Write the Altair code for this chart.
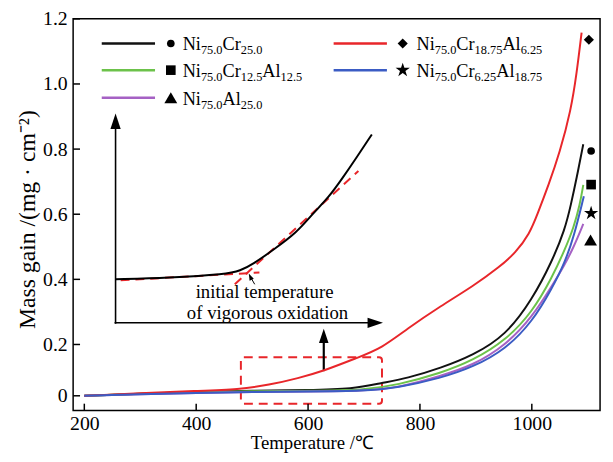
import altair as alt
import pandas as pd

# ---------------- data ----------------
x_ticks = [200, 400, 600, 800, 1000]
y_ticks = [0, 0.2, 0.4, 0.6, 0.8, 1.0, 1.2]

series_keys = ["NiCr", "NiCrAl125", "NiAl", "NiCrAl625", "NiCrAl1875"]
series_colors = ["#111111", "#6cc24a", "#a561c4", "#e8262a", "#3b5cc4"]

temp_black = [200, 300, 400, 500, 600, 680, 731, 777, 837, 895, 953, 1001, 1036, 1059, 1070, 1080, 1092]
gain_black = [0, 0.008, 0.015, 0.02, 0.022, 0.026, 0.05, 0.068, 0.108, 0.158, 0.227, 0.339, 0.455, 0.552, 0.63, 0.71, 0.815]

temp_green = [200, 300, 400, 500, 600, 700, 760, 837, 895, 953, 1001, 1036, 1059, 1075, 1086, 1092]
gain_green = [0, 0.008, 0.014, 0.018, 0.02, 0.022, 0.042, 0.088, 0.138, 0.212, 0.30, 0.405, 0.491, 0.56, 0.63, 0.69]

temp_purple = [200, 300, 400, 500, 600, 700, 760, 837, 895, 953, 1001, 1036, 1059, 1075, 1092]
gain_purple = [0, 0.006, 0.011, 0.015, 0.017, 0.019, 0.031, 0.077, 0.119, 0.196, 0.285, 0.38, 0.445, 0.50, 0.57]

temp_red = [200, 300, 400, 477, 530, 583, 627, 690, 731, 777, 837, 895, 943, 971, 996, 1010, 1030, 1050, 1070, 1080, 1089]
gain_red = [0, 0.01, 0.019, 0.025, 0.042, 0.069, 0.096, 0.15, 0.185, 0.248, 0.318, 0.379, 0.439, 0.482, 0.54, 0.60, 0.69, 0.79, 0.92, 1.03, 1.158]

temp_blue = [200, 300, 400, 500, 600, 700, 760, 837, 895, 953, 1001, 1036, 1059, 1075, 1093]
gain_blue = [0, 0.006, 0.011, 0.015, 0.017, 0.019, 0.031, 0.069, 0.112, 0.181, 0.27, 0.372, 0.452, 0.53, 0.655]

# end-of-curve marker positions
marker_temp = [1106, 1106, 1105, 1102, 1106]
marker_gain = [0.794, 0.691, 0.521, 1.136, 0.603]

# legend label pieces: (text, is_subscript)
legend_pieces = [
    [("Ni", 0), ("75.0", 1), ("Cr", 0), ("25.0", 1)],
    [("Ni", 0), ("75.0", 1), ("Cr", 0), ("12.5", 1), ("Al", 0), ("12.5", 1)],
    [("Ni", 0), ("75.0", 1), ("Al", 0), ("25.0", 1)],
    [("Ni", 0), ("75.0", 1), ("Cr", 0), ("18.75", 1), ("Al", 0), ("6.25", 1)],
    [("Ni", 0), ("75.0", 1), ("Cr", 0), ("6.25", 1), ("Al", 0), ("18.75", 1)],
]

# inset sketch (in the main axes' units)
inset_temp = [256, 350, 455, 478, 503, 538, 579, 609, 637, 662, 685, 714]
inset_gain = [0.40, 0.405, 0.416, 0.426, 0.448, 0.491, 0.542, 0.603, 0.652, 0.712, 0.770, 0.845]
tangent_temp = [[265, 513], [469, 690]]
tangent_gain = [[0.397, 0.421], [0.385, 0.733]]
note_lines = ["initial temperature", "of vigorous oxidation"]

# ---------------- layout / style ----------------
W, H = 534, 397
X_DOMAIN = [180, 1122]
Y_DOMAIN = [-0.058, 0, 0.2, 1.2]
Y_RANGE = [H, 382, 330, 0]
DEG_PER_PX = (X_DOMAIN[1] - X_DOMAIN[0]) / W
SERIF = "Liberation Serif"
RED = "#e8262a"
STAR = ("M0,-1L0.2245,-0.309L0.951,-0.309L0.363,0.118L0.588,0.809L0,0.382L-0.588,0.809"
        "L-0.363,0.118L-0.951,-0.309L-0.2245,-0.309Z")
marker_shapes = ["circle", "square", "triangle-up", "diamond", STAR]
marker_sizes = [60, 95, 170, 105, 230]

xs = alt.Scale(domain=X_DOMAIN, nice=False, zero=False)
ys = alt.Scale(domain=Y_DOMAIN, range=Y_RANGE, nice=False, zero=False)

axis_style = dict(ticks=False, domain=False, grid=False,
                  labelFont=SERIF, labelFontSize=20, labelColor="black",
                  titleFont=SERIF, titleFontWeight="normal", titleColor="black")
x_axis = alt.Axis(values=x_ticks, format="d", title="Temperature /℃", labelPadding=3, titlePadding=0,
                  titleFontSize=19, titleX=242, **axis_style)
y_axis = alt.Axis(values=y_ticks, labelExpr="datum.value == 0 ? '0' : format(datum.value, '.1f')",
                  title="Mass gain /(mg · cm⁻²)", labelPadding=6, titlePadding=3,
                  titleFontSize=24, titleY=203, **axis_style)

def X(f="x"):
    return alt.X(f"{f}:Q", scale=xs, axis=x_axis)

def Y(f="y"):
    return alt.Y(f"{f}:Q", scale=ys, axis=y_axis)

def p2d(px):
    # page pixel column (plot left edge at 74) -> temperature units
    return X_DOMAIN[0] + (px - 74) * DEG_PER_PX

def gain_at(py):
    # page pixel row (plot top at 16) -> value on the piecewise axis
    rel = py - 16
    if rel <= 330:
        return 1.2 - rel / 330
    return 0.2 * (382 - rel) / 52

# curves
rows = []
for key, ts, gs in [("NiCr", temp_black, gain_black), ("NiCrAl125", temp_green, gain_green),
                    ("NiAl", temp_purple, gain_purple), ("NiCrAl625", temp_red, gain_red),
                    ("NiCrAl1875", temp_blue, gain_blue)]:
    for t, g in zip(ts, gs):
        rows.append({"series": key, "x": t, "y": g})
curves_df = pd.DataFrame(rows)

color = alt.Color("series:N", scale=alt.Scale(domain=series_keys, range=series_colors), legend=None)
shape_k = alt.Shape("series:N", scale=alt.Scale(domain=series_keys, range=marker_shapes), legend=None)
size_k = alt.Size("sz:Q", scale=None)

curves = alt.Chart(curves_df).mark_line(strokeWidth=2, interpolate="basis").encode(
    x=X(), y=Y(), color=color, detail="series:N")

end_df = pd.DataFrame({"series": series_keys, "x": marker_temp, "y": marker_gain, "sz": marker_sizes})
end_marks = alt.Chart(end_df).mark_point(filled=True, color="black", opacity=1).encode(
    x=X(), y=Y(), shape=shape_k, size=size_k)

# legend
leg_col_px = [(103, 157, 173, 185), (103, 157, 173, 185), (103, 157, 173, 185),
              (338, 392, 408, 422), (338, 392, 408, 422)]
leg_row_py = [41, 68, 96, 41, 68]
em = {"N": .722, "i": .278, "C": .667, "r": .333, "A": .722, "l": .278, ".": .25}

def width(s, size):
    return sum(em.get(c, .5) for c in s) * size

txt_main, txt_sub = [], []
for k in range(len(series_keys)):
    pos = leg_col_px[k][3]
    yv = gain_at(leg_row_py[k])
    for txt, sub in legend_pieces[k]:
        size = 12.5 if sub else 18.5
        (txt_sub if sub else txt_main).append({"x": p2d(pos), "y": yv, "t": txt})
        pos += width(txt, size)

leg_lines_df = pd.DataFrame([{"series": series_keys[k], "x": p2d(leg_col_px[k][0]), "x2": p2d(leg_col_px[k][1]),
                              "y": gain_at(leg_row_py[k])} for k in range(5)])
leg_marks_df = pd.DataFrame([{"series": series_keys[k], "x": p2d(leg_col_px[k][2]),
                              "y": gain_at(leg_row_py[k]), "sz": marker_sizes[k]} for k in range(5)])

legend_lines = alt.Chart(leg_lines_df).mark_rule(strokeWidth=2.5).encode(
    x=X(), x2="x2:Q", y=Y(), color=color)
legend_marks = alt.Chart(leg_marks_df).mark_point(filled=True, color="black", opacity=1).encode(
    x=X(), y=Y(), shape=shape_k, size=size_k)
legend_main = alt.Chart(pd.DataFrame(txt_main)).mark_text(
    align="left", baseline="alphabetic", font=SERIF, fontSize=18.5, dy=7, color="black").encode(
    x=X(), y=Y(), text="t:N")
legend_sub = alt.Chart(pd.DataFrame(txt_sub)).mark_text(
    align="left", baseline="alphabetic", font=SERIF, fontSize=12.5, dy=11, color="black").encode(
    x=X(), y=Y(), text="t:N")

# inward ticks
xtick = alt.Chart(pd.DataFrame({"x": x_ticks})).mark_rule(color="black", strokeWidth=1.5).encode(
    x=X(), y=alt.value(H), y2=alt.value(H - 7))
ytick = alt.Chart(pd.DataFrame({"y": y_ticks})).mark_rule(color="black", strokeWidth=1.5).encode(
    y=Y(), x=alt.value(0), x2=alt.value(7))

# annotations
rect_df = pd.DataFrame({"x": [p2d(244)], "x2": [p2d(387)], "y": [gain_at(359)], "y2": [gain_at(406)]})
box = alt.Chart(rect_df).mark_rect(fillOpacity=0, stroke=RED, strokeWidth=2, strokeDash=[9, 6],
                                   cornerRadius=3).encode(x=X(), x2="x2:Q", y=Y(), y2="y2:Q")

inset = alt.Chart(pd.DataFrame({"x": inset_temp, "y": inset_gain})).mark_line(
    color="black", strokeWidth=2, interpolate="basis").encode(x=X(), y=Y())

tan_rows = []
for i in range(2):
    for t, g in zip(tangent_temp[i], tangent_gain[i]):
        tan_rows.append({"seg": i, "x": t, "y": g})
tangents = alt.Chart(pd.DataFrame(tan_rows)).mark_line(color=RED, strokeWidth=2, strokeDash=[9, 6]).encode(
    x=X(), y=Y(), detail="seg:N")

shafts_df = pd.DataFrame([
    {"x": p2d(117), "x2": p2d(117), "y": gain_at(325), "y2": gain_at(126), "w": 1.6},
    {"x": p2d(116), "x2": p2d(374), "y": gain_at(324), "y2": gain_at(324), "w": 1.6},
    {"x": p2d(328), "x2": p2d(328), "y": gain_at(373), "y2": gain_at(342), "w": 2.2},
    {"x": p2d(258), "x2": p2d(254), "y": gain_at(285), "y2": gain_at(278), "w": 1.0},
])
shafts = alt.Chart(shafts_df).mark_rule(color="black").encode(
    x=X(), x2="x2:Q", y=Y(), y2="y2:Q", strokeWidth=alt.StrokeWidth("w:Q", scale=None))

head_path = "M0,0L-0.6,1.8L0.6,1.8Z"
heads_df = pd.DataFrame([
    {"x": p2d(117), "y": gain_at(112), "a": 0, "s": 300},
    {"x": p2d(388), "y": gain_at(324), "a": 90, "s": 300},
    {"x": p2d(328), "y": gain_at(330), "a": 0, "s": 260},
    {"x": p2d(252), "y": gain_at(274), "a": 335, "s": 60},
])
heads = alt.Chart(heads_df).mark_point(shape=head_path, filled=True, color="black", opacity=1).encode(
    x=X(), y=Y(), angle=alt.Angle("a:Q", scale=None), size=alt.Size("s:Q", scale=None))

note_df = pd.DataFrame({"x": [p2d(268), p2d(271)], "y": [gain_at(293), gain_at(314)], "t": note_lines})
note = alt.Chart(note_df).mark_text(font=SERIF, fontSize=19, color="black", align="center",
                                    baseline="middle").encode(x=X(), y=Y(), text="t:N")

chart = alt.layer(
    box, tangents, inset, shafts, heads, note,
    curves, end_marks,
    legend_lines, legend_marks, legend_main, legend_sub,
    xtick, ytick,
).properties(
    width=W, height=H,
    background="white",
    autosize=alt.AutoSizeParams(type="none"),
    padding={"left": 66, "top": 8, "right": 5, "bottom": 41},
).configure_view(
    stroke="black", strokeWidth=1.5
).configure_axis(
    labelFont=SERIF, labelFontSize=20, labelColor="black",
    titleFont=SERIF, titleFontWeight="normal", titleColor="black",
)

chart.save("out.html", embed_options={"renderer": "svg", "actions": False})
